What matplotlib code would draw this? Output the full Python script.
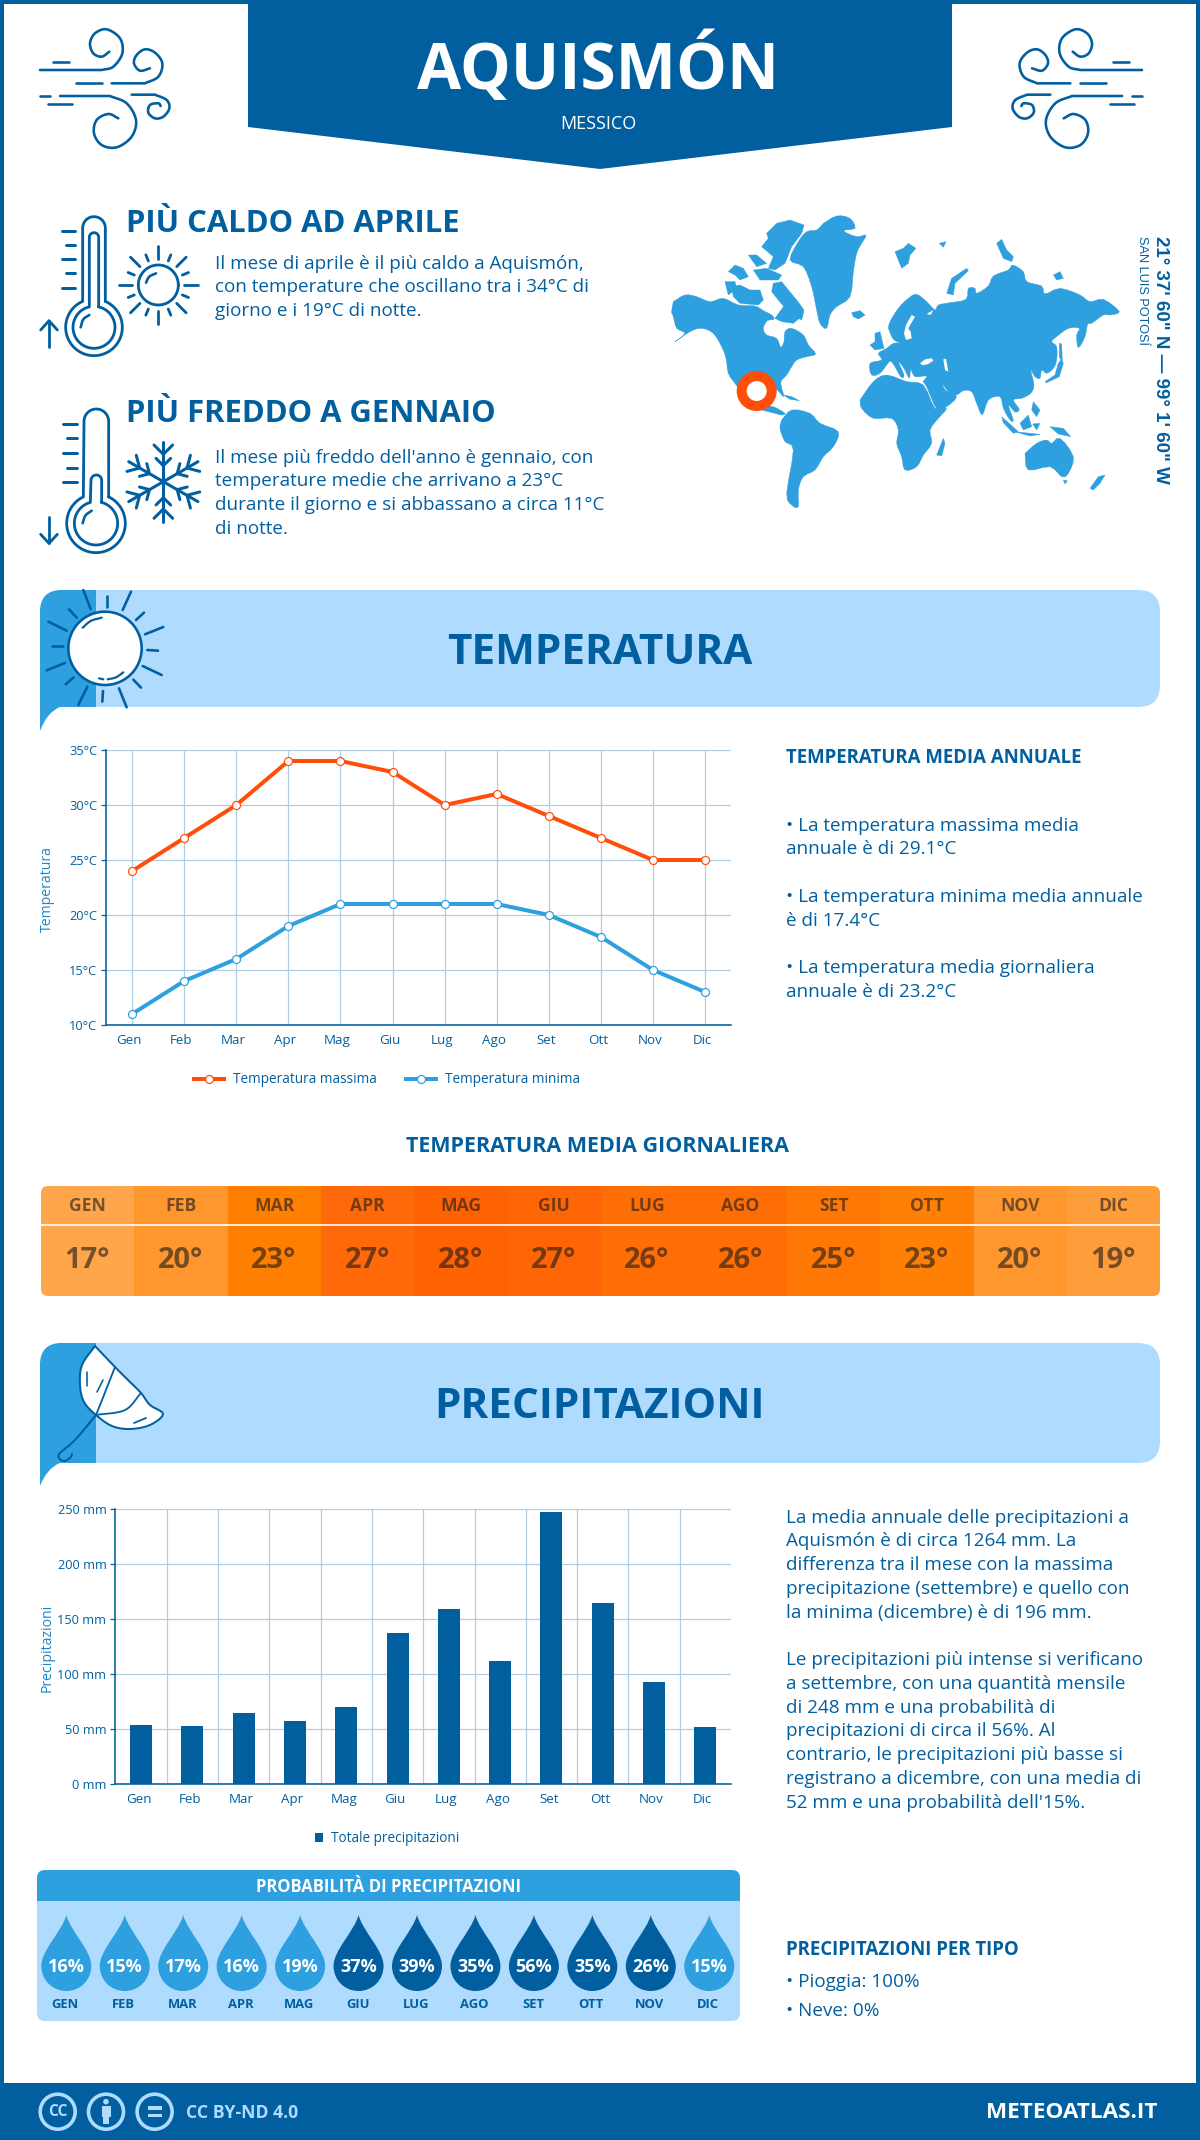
import numpy as np
import matplotlib
matplotlib.use("Agg")
import matplotlib.pyplot as plt
from matplotlib.patches import Rectangle, FancyBboxPatch, Circle, Polygon, PathPatch, Patch
from matplotlib.path import Path
from matplotlib.transforms import ScaledTranslation

plt.rcParams['font.family'] = ['Open Sans', 'DejaVu Sans']

# ---------- data ----------
months = ["Gen", "Feb", "Mar", "Apr", "Mag", "Giu", "Lug", "Ago", "Set", "Ott", "Nov", "Dic"]
months_up = [m.upper() for m in months]
temp_max = [24, 27, 30, 34, 34, 33, 30, 31, 29, 27, 25, 25]
temp_min = [11, 14, 16, 19, 21, 21, 21, 21, 20, 18, 15, 13]
temp_mean = [17, 20, 23, 27, 28, 27, 26, 26, 25, 23, 20, 19]
mean_colors = ["#FFA64D", "#FF962E", "#FF7F00", "#FF690A", "#FF6200", "#FF6505",
               "#FF6D05", "#FF6D05", "#FF7805", "#FF8006", "#FF962E", "#FF9D3B"]
precip = [54, 53, 65, 57.5, 70, 137.5, 159, 112, 248, 165, 93, 52]
prob = [16, 15, 17, 16, 19, 37, 39, 35, 56, 35, 26, 15]
temp_ticks = [10, 15, 20, 25, 30, 35]
precip_ticks = [0, 50, 100, 150, 200, 250]

DARK = "#015FA0"
MID = "#2E9FDF"
LIGHT = "#AFDBFF"
RED = "#FF4E0A"
GRID = "#B0CDE2"
W, H = 1200, 2140
PX = 0.72


def pt(px):
    return px * PX


fig = plt.figure(figsize=(W / 100, H / 100), dpi=100, facecolor="white")
bg = fig.add_axes([0, 0, 1, 1])
bg.set_xlim(0, W)
bg.set_ylim(H, 0)
bg.axis("off")


def T(x, y, s, px, color=DARK, weight="normal", ha="left", va="baseline", **kw):
    return bg.text(x, y, s, fontsize=pt(px), color=color, fontweight=weight, ha=ha, va=va, **kw)


def smooth(pts, n=12):
    p = np.array(pts, float)
    p = np.vstack([2 * p[0] - p[1], p, 2 * p[-1] - p[-2]])
    out = []
    for i in range(1, len(p) - 2):
        for t in np.linspace(0, 1, n, endpoint=False):
            a = 2 * p[i] + (p[i + 1] - p[i - 1]) * t + (2 * p[i - 1] - 5 * p[i] + 4 * p[i + 1] - p[i + 2]) * t ** 2 + (-p[i - 1] + 3 * p[i] - 3 * p[i + 1] + p[i + 2]) * t ** 3
            out.append(a / 2)
    out.append(p[-2])
    return np.array(out)


def stroke(pts, lw=2.6, color=DARK, z=5, **kw):
    p = np.array(pts, float)
    bg.plot(p[:, 0], p[:, 1], color=color, lw=pt(lw), solid_capstyle="round", solid_joinstyle="round", zorder=z, **kw)


def Zf(x0, y0, s=3.0, mirror=None):
    def f(pts):
        p = np.array(pts, float)
        r = np.column_stack([x0 + p[:, 0] / s, y0 + p[:, 1] / s])
        if mirror is not None:
            r[:, 0] = mirror - r[:, 0]
        return r
    return f


# ---------- frame, header, footer ----------
bg.add_patch(Rectangle((2, 2), W - 4, H - 4, fc="none", ec=DARK, lw=pt(4), zorder=1))
bg.add_patch(Polygon([(248, 0), (952, 0), (952, 127), (600, 169), (248, 127)], fc=DARK, ec="none", zorder=2))
T(598, 89, "AQUISMÓN", 64, color="white", weight="bold", ha="center", zorder=3)
T(598, 124, "MESSICO", 18, color="white", ha="center", va="center", zorder=3)
bg.add_patch(Rectangle((0, 2083), W, 57, fc=DARK, ec="none", zorder=2))


def wind(mirror=None):
    z = Zf(30, 20, mirror=mirror)
    for a in ([(68, 125), (118, 125)], [(138, 190), (215, 190)], [(30, 228), (60, 228)], [(55, 253), (125, 253)]):
        stroke(z(a))
    stroke(z(np.vstack([[(30, 150)], smooth([(215, 150), (250, 140), (277, 100), (270, 55), (230, 28), (195, 40), (180, 70), (190, 100), (215, 110), (238, 95)])])))
    stroke(z(np.vstack([[(245, 190)], smooth([(345, 190), (385, 170), (397, 130), (375, 98), (345, 88), (320, 105), (312, 130), (330, 152), (360, 145)])])))
    stroke(z(np.vstack([[(90, 228)], smooth([(240, 228), (290, 250), (318, 300), (305, 350), (260, 382), (215, 375), (192, 340), (200, 300), (235, 282), (265, 295)])])))
    stroke(z(np.vstack([[(305, 224)], smooth([(375, 224), (410, 240), (418, 265), (400, 290), (375, 295), (355, 278), (360, 255), (385, 250), (392, 258)])])))


wind()
wind(mirror=1182)

# ---------- summary ----------
T(125.5, 231.5, "PIÙ CALDO AD APRILE", 31, weight="bold")
for y, s in zip([269, 292.5, 316], ["Il mese di aprile è il più caldo a Aquismón,",
                                    "con temperature che oscillano tra i 34°C di",
                                    "giorno e i 19°C di notte."]):
    T(215, y, s, 18.9)
T(125.5, 421.5, "PIÙ FREDDO A GENNAIO", 31, weight="bold")
for y, s in zip([463, 486.5, 510, 534], ["Il mese più freddo dell'anno è gennaio, con",
                                         "temperature medie che arrivano a 23°C",
                                         "durante il giorno e si abbassano a circa 11°C",
                                         "di notte."]):
    T(215, y, s, 18.9)


def thermo(z, cx, cy, R, r, xl, xr, top, il, ir, itop, ticks, arrow, high):
    ang = np.arcsin((xr - cx) / R)
    th = np.linspace(ang, 2 * np.pi - ang, 60)
    bulb = np.column_stack([cx + R * np.sin(th), cy - R * np.cos(th)])
    w = (xr - xl) / 2
    a = np.linspace(np.pi, 0, 20)
    cap = np.column_stack([(xl + xr) / 2 + w * np.cos(a), top + w - w * np.sin(a)])
    stroke(z(np.vstack([bulb, cap, bulb[:1]])), lw=2.8)
    ang2 = np.arcsin((ir - cx) / r)
    th = np.linspace(ang2, 2 * np.pi - ang2, 60)
    inner = np.column_stack([cx + r * np.sin(th), cy - r * np.cos(th)])
    w = (ir - il) / 2
    cap = np.column_stack([(il + ir) / 2 + w * np.cos(a), itop + w - w * np.sin(a)])
    stroke(z(np.vstack([inner, cap, inner[:1]])), lw=2.8)
    for x0, x1, y in ticks:
        stroke(z([(x0, y), (x1, y)]), lw=3)
    stroke(z(arrow[0]), lw=2.8)
    stroke(z(arrow[1]), lw=2.8)
    stroke(z(smooth(high)), lw=2.6)


z6 = Zf(30, 200)
thermo(z6, 192, 382, 85, 63, 158, 226, 50, 178, 206, 98,
       [(97, 135, 93), (107, 135, 135), (97, 135, 178), (107, 135, 220), (97, 135, 263)],
       ([(57, 440), (57, 362)], [(32, 390), (57, 362), (82, 390)]),
       [(152, 382), (160, 358), (178, 345)])
z7 = Zf(30, 395)
thermo(z7, 198, 385, 88, 65, 162, 236, 42, 183, 215, 240,
       [(100, 140, 86), (110, 140, 130), (100, 140, 174), (110, 140, 218), (100, 140, 262)],
       ([(57, 365), (57, 445)], [(32, 418), (57, 445), (82, 418)]),
       [(158, 385), (166, 362), (185, 347)])

# small sun
cx, cy = 385, 255
t = np.linspace(0, 2 * np.pi, 80)
stroke(z6(np.column_stack([cx + 60 * np.cos(t), cy + 60 * np.sin(t)])), lw=2.8)
for k in range(16):
    a = k * np.pi / 8
    r1 = 118 if k % 2 == 0 else 98
    stroke(z6([(cx + 78 * np.cos(a), cy + 78 * np.sin(a)), (cx + r1 * np.cos(a), cy + r1 * np.sin(a))]), lw=2.8)
stroke(z6(smooth([(348, 248), (358, 230), (378, 220)])), lw=2.6)

# snowflake
for k in range(6):
    a = k * np.pi / 3
    c, s = np.cos(a), np.sin(a)

    def R(pts):
        p = np.array(pts, float)
        return z7(np.column_stack([400 + p[:, 0] * c + p[:, 1] * s, 260 + p[:, 0] * s - p[:, 1] * c]))
    stroke(R([(0, 0), (0, 120)]), lw=3)
    stroke(R([(-28, 110), (0, 82), (28, 110)]), lw=3)
    stroke(R([(-22, 70), (0, 48), (22, 70)]), lw=3)

# ---------- world map (decoration, drawn in the crop's own pixel frame) ----------
north_america = [(40, 305), (75, 285), (110, 290), (150, 305), (190, 295), (235, 315), (285, 318), (310, 332), (335, 345), (342, 358),
                 (322, 362), (310, 385), (320, 405), (350, 415), (362, 442), (372, 425), (375, 395), (395, 385), (430, 405), (445, 435),
                 (467, 462), (440, 470), (410, 480), (395, 500), (380, 525), (362, 548), (372, 590), (352, 570), (330, 560), (310, 550),
                 (285, 555), (290, 590), (320, 615), (345, 622), (375, 640), (365, 645), (345, 640), (300, 628), (270, 610), (240, 570),
                 (225, 550), (205, 520), (198, 475), (185, 440), (160, 400), (125, 385), (90, 395), (45, 425), (75, 400), (50, 385),
                 (40, 350), (35, 335)]
arctic = [[(340, 250), (365, 245), (385, 270), (410, 300), (432, 330), (425, 360), (405, 350), (380, 330), (355, 300), (335, 275)],
          [(215, 260), (240, 255), (270, 270), (300, 270), (310, 300), (295, 315), (240, 310), (220, 290)],
          [(195, 245), (225, 245), (230, 265), (205, 285)],
          [(320, 100), (350, 70), (390, 60), (432, 75), (425, 100), (395, 140), (375, 190), (345, 210), (325, 205), (340, 170), (305, 140), (325, 115)],
          [(205, 215), (225, 195), (250, 205), (265, 230), (240, 240), (225, 225)],
          [(280, 210), (320, 205), (365, 225), (355, 240), (300, 240)],
          [(265, 165), (290, 165), (320, 190), (290, 200)],
          [(345, 355), (385, 300), (430, 345), (400, 370), (365, 365)]]
greenland = [(490, 70), (530, 48), (570, 55), (585, 85), (550, 92), (590, 110), (618, 105), (605, 130), (590, 160), (580, 215), (570, 290),
             (530, 320), (510, 345), (500, 385), (480, 370), (470, 330), (455, 260), (430, 200), (390, 180), (415, 125), (440, 95), (470, 90)]
eurasia = [(685, 385), (690, 365), (715, 325), (745, 295), (770, 283), (800, 305), (825, 330), (835, 315), (870, 308), (918, 298), (925, 265),
           (945, 265), (950, 280), (985, 258), (1000, 228), (1045, 210), (1058, 195), (1090, 215), (1100, 245), (1145, 258), (1155, 282),
           (1200, 265), (1260, 285), (1290, 305), (1330, 298), (1378, 335), (1350, 345), (1330, 345), (1295, 370), (1283, 372), (1275, 410),
           (1255, 443), (1250, 405), (1258, 385), (1225, 385), (1190, 410), (1175, 425), (1190, 440), (1190, 480), (1180, 505), (1160, 520),
           (1145, 510), (1140, 535), (1125, 530), (1112, 510), (1122, 555), (1112, 580), (1085, 595), (1060, 600), (1078, 628), (1065, 636),
           (1045, 615), (1060, 660), (1050, 660), (1030, 625), (1020, 590), (985, 600), (967, 645), (950, 610), (935, 575), (910, 572),
           (890, 585), (870, 580), (848, 553), (858, 572), (890, 590), (860, 620), (832, 630), (800, 560), (790, 545), (800, 528), (765, 530),
           (752, 508), (748, 535), (732, 505), (715, 485), (732, 525), (722, 530), (695, 485), (680, 495), (660, 520), (635, 525), (630, 490),
           (665, 480), (655, 460), (680, 445), (700, 430), (720, 428), (700, 418)]
africa = [(600, 600), (640, 545), (680, 525), (740, 545), (790, 555), (825, 625), (860, 625), (835, 655), (810, 690), (815, 730), (790, 765),
          (770, 800), (735, 810), (725, 770), (710, 730), (715, 690), (695, 655), (640, 655), (605, 625)]
south_america = [(365, 660), (395, 630), (450, 640), (480, 670), (535, 695), (520, 740), (490, 770), (465, 810), (430, 830), (415, 870), (415, 920),
                 (395, 915), (380, 880), (400, 750), (375, 725), (360, 685)]
australia = [(1095, 760), (1130, 730), (1160, 720), (1175, 730), (1200, 715), (1240, 770), (1225, 820), (1205, 830), (1170, 800), (1105, 810)]
islands = [[(575, 338), (600, 332), (615, 345), (595, 357), (580, 350)],
           [(705, 155), (730, 145), (745, 130), (768, 145), (750, 165), (745, 190), (725, 205), (715, 180)],
           [(838, 130), (858, 125), (850, 142)],
           [(860, 280), (875, 235), (920, 205), (925, 212), (885, 250), (880, 285)],
           [(1010, 130), (1025, 118), (1040, 150), (1060, 170), (1055, 185), (1030, 175)],
           [(1180, 225), (1200, 215), (1210, 235), (1190, 240)],
           [(645, 400), (660, 395), (672, 445), (645, 450), (630, 435), (645, 425)],
           [(1155, 545), (1185, 525), (1195, 490), (1203, 480), (1210, 490), (1198, 530), (1160, 548)],
           [(1198, 430), (1205, 432), (1207, 490), (1198, 470)],
           [(1025, 650), (1075, 695), (1060, 700), (1030, 668)],
           [(1065, 695), (1140, 703), (1110, 708)],
           [(1080, 670), (1105, 645), (1115, 680), (1090, 690)],
           [(1118, 672), (1140, 670), (1130, 690)],
           [(1170, 680), (1210, 685), (1232, 710), (1195, 702)],
           [(1120, 605), (1140, 630), (1130, 650), (1115, 630)],
           [(830, 765), (850, 715), (855, 730), (845, 768)],
           [(1210, 840), (1222, 842), (1215, 852)],
           [(1290, 865), (1315, 830), (1335, 825), (1320, 850), (1300, 870)],
           [(370, 585), (395, 590), (418, 602), (390, 598)]]
seas = [[(738, 420), (755, 415), (752, 395), (745, 385), (765, 350), (755, 345), (738, 375), (732, 400)],
        [(780, 490), (795, 478), (815, 475), (820, 482), (805, 492), (788, 496)],
        [(850, 478), (858, 476), (865, 515), (855, 510)],
        [(800, 342), (820, 330), (812, 345)]]
zm = Zf(660, 200)
for poly in [north_america, greenland, eurasia, africa, south_america, australia]:
    bg.add_patch(Polygon(zm(smooth(poly + poly[:1], n=3)), closed=True, fc=MID, ec=MID, lw=0.3, zorder=3))
for poly in arctic + islands:
    bg.add_patch(Polygon(zm(poly), closed=True, fc=MID, ec=MID, lw=0.3, zorder=3))
for poly in seas:
    bg.add_patch(Polygon(zm(poly), closed=True, fc="white", ec="none", zorder=3.5))
bg.add_patch(Circle((756.7, 391), 15, fc="white", ec=RED, lw=pt(10), zorder=4))
T(1161, 359.5, "21° 37' 60\" N — 99° 1' 60\" W", 18.8, weight="bold", rotation=270, ha="center", va="center",
  family="Liberation Sans", rotation_mode="anchor")
T(1142, 290.5, "SAN LUIS POTOSÍ", 12.7, rotation=270, ha="center", va="center", family="Liberation Sans", rotation_mode="anchor")


# ---------- banners ----------
def banner(y0, y1, tail, title):
    bg.add_patch(FancyBboxPatch((40, y0), 1120, y1 - y0, boxstyle="round,pad=0,rounding_size=22", fc=LIGHT, ec="none", zorder=2))
    v = [(96, y1), (96, y0), (62, y0), (40, y0), (40, y0 + 22), (40, tail), (47, y1 + 5), (60, y1), (76, y1), (96, y1)]
    c = [Path.MOVETO, Path.LINETO, Path.LINETO, Path.CURVE3, Path.CURVE3, Path.LINETO, Path.CURVE3, Path.CURVE3, Path.LINETO, Path.CLOSEPOLY]
    bg.add_patch(PathPatch(Path(v, c), fc=MID, ec="none", zorder=2.5))
    T(600, (y0 + y1) / 2, title, 42.3, weight="bold", ha="center", va="center_baseline", zorder=3)


banner(590, 707, 731, "TEMPERATURA")
banner(1343, 1463, 1486, "PRECIPITAZIONI")

# big sun
z8 = Zf(30, 585)
t = np.linspace(0, 2 * np.pi, 100)
bg.add_patch(Polygon(z8(np.column_stack([225 + 110 * np.cos(t), 190 + 110 * np.sin(t)])), closed=True, fc="white", ec=DARK, lw=pt(2.6), zorder=5))
for a, b in [((160, 15), (182, 72)), ((230, 32), (230, 65)), ((303, 20), (278, 75)), ((342, 83), (318, 105)), ((400, 126), (345, 148)),
             ((352, 195), (384, 197)), ((338, 243), (395, 270)), ((310, 284), (333, 308)), ((267, 310), (290, 367)), ((219, 318), (217, 350)),
             ((172, 305), (145, 360)), ((131, 277), (107, 298)), ((105, 234), (50, 256)), ((98, 184), (65, 184)), ((110, 137), (55, 110)),
             ((140, 98), (117, 73))]:
    stroke(z8([a, b]), lw=2.6)
stroke(z8(smooth([(158, 128), (182, 108), (215, 98)])), lw=2.2)
stroke(z8(smooth([(233, 283), (258, 277), (280, 262)])), lw=2.2)
stroke(z8([(207, 280), (220, 283)]), lw=2.2)

# umbrella
canopy = smooth([(95, 1346), (82, 1365), (80, 1385), (84, 1402), (96, 1415), (112, 1426), (130, 1429), (150, 1425), (163, 1414),
                 (150, 1405), (141, 1393), (128, 1380), (115, 1367), (95, 1346)], n=6)
bg.add_patch(Polygon(canopy, closed=True, fc="white", ec=DARK, lw=pt(2), zorder=5))
stroke(smooth([(96, 1415), (75, 1440), (60, 1453), (59, 1458), (64, 1461), (70, 1458), (72, 1454)]), lw=2, z=5)
stroke(smooth([(115, 1367), (104, 1395), (96, 1415)]), lw=1.8, z=6)
stroke(smooth([(141, 1393), (125, 1410), (96, 1415)]), lw=1.8, z=6)
stroke([(87, 1372), (87, 1386)], lw=1.6, z=6)
stroke([(97, 1392), (103, 1380)], lw=1.6, z=6)
stroke([(134, 1423), (146, 1418)], lw=1.8, z=6)

# ---------- temperature chart ----------
ax = fig.add_axes([106.1 / W, 1 - 1025 / H, 625 / W, 275 / H], facecolor="none")
ax.set_xlim(-0.5, 11.5)
ax.set_ylim(min(temp_ticks), max(temp_ticks))
ax.set_xticks(range(12))
ax.set_xticklabels(months)
ax.set_yticks(temp_ticks)
ax.set_yticklabels([f"{v}°C" for v in temp_ticks])
ax.grid(True, color=GRID, lw=pt(1.2))
ax.set_axisbelow(True)
for s in ("top", "right"):
    ax.spines[s].set_visible(False)
for s in ("left", "bottom"):
    ax.spines[s].set_color(DARK)
    ax.spines[s].set_linewidth(pt(1.6))
ax.tick_params(axis="y", length=pt(5), width=pt(1.2), color=DARK, labelcolor=DARK, labelsize=pt(12.8), pad=pt(4))
ax.tick_params(axis="x", length=0, labelcolor=DARK, labelsize=pt(13.4), pad=pt(9))
for lab in ax.get_xticklabels():
    lab.set_transform(lab.get_transform() + ScaledTranslation(-3 / 100, 0, fig.dpi_scale_trans))
ln_style = dict(lw=pt(4), marker="o", ms=pt(8), mfc="white", mew=pt(1.2), clip_on=False)
l1, = ax.plot(range(12), temp_max, color=RED, label="Temperatura massima", **ln_style)
l2, = ax.plot(range(12), temp_min, color=MID, label="Temperatura minima", **ln_style)
ax.legend(handles=[l1, l2], ncol=2, loc="center", bbox_to_anchor=(387 / W, 1 - 1080 / H), bbox_transform=fig.transFigure, frameon=False,
          fontsize=pt(13.6), labelcolor=DARK, handlelength=2.2, handletextpad=0.66, columnspacing=2.2, borderpad=0, borderaxespad=0)
T(47.5, 889, "Temperatura", 14, color="#1F86C6", rotation=90, ha="center", va="center")

# ---------- temperature text ----------
T(785.5, 763, "TEMPERATURA MEDIA ANNUALE", 18.7, weight="bold")
for y, s in zip([830.7, 854, 902, 926, 973, 997],
                ["• La temperatura massima media", "annuale è di 29.1°C",
                 "• La temperatura minima media annuale", "è di 17.4°C",
                 "• La temperatura media giornaliera", "annuale è di 23.2°C"]):
    T(785.5, y, s, 18.9)

# ---------- daily mean table ----------
T(598, 1147, "TEMPERATURA MEDIA GIORNALIERA", 21.5, weight="bold", ha="center", va="center")
x0, x1, y0, ym, y1 = 41, 1160, 1186, 1225, 1296
clip = FancyBboxPatch((x0, y0), x1 - x0, y1 - y0, boxstyle="round,pad=0,rounding_size=7", fc="none", ec="none", transform=bg.transData)
bg.add_patch(clip)
cw = (x1 - x0) / 12
for i, (m, v, c) in enumerate(zip(months_up, temp_mean, mean_colors)):
    r = bg.add_patch(Rectangle((x0 + i * cw, y0), cw + 0.5, y1 - y0, fc=c, ec="none", zorder=2))
    r.set_clip_path(clip)
    T(x0 + (i + 0.5) * cw, 1206, m, 17.5, color="#1a1a1a", weight="bold", ha="center", va="center", alpha=0.6, zorder=3)
    T(x0 + (i + 0.5) * cw, 1261, f"{v}°", 29, color="#1a1a1a", weight="bold", ha="center", va="center", alpha=0.6, zorder=3)
bg.plot([x0, x1], [ym, ym], color="white", lw=pt(1.6), zorder=3)

# ---------- precipitation chart ----------
ax2 = fig.add_axes([115.4 / W, 1 - 1784.3 / H, 615.6 / W, 275 / H], facecolor="none")
ax2.set_xlim(-0.5, 11.5)
ax2.set_ylim(min(precip_ticks), max(precip_ticks))
ax2.set_xticks(range(12))
ax2.set_xticklabels(months)
ax2.set_xticks(np.arange(0.5, 11), minor=True)
ax2.set_yticks(precip_ticks)
ax2.set_yticklabels([f"{v} mm" for v in precip_ticks])
ax2.grid(True, axis="y", color=GRID, lw=pt(1.2))
ax2.grid(True, axis="x", which="minor", color=GRID, lw=pt(1.2))
ax2.set_axisbelow(True)
for s in ("top", "right"):
    ax2.spines[s].set_visible(False)
for s in ("left", "bottom"):
    ax2.spines[s].set_color(DARK)
    ax2.spines[s].set_linewidth(pt(1.6))
ax2.tick_params(axis="y", length=pt(5), width=pt(1.2), color=DARK, labelcolor=DARK, labelsize=pt(12.8), pad=pt(4))
ax2.tick_params(axis="x", which="both", length=0, labelcolor=DARK, labelsize=pt(13.4), pad=pt(9))
for lab in ax2.get_xticklabels():
    lab.set_transform(lab.get_transform() + ScaledTranslation(-2.5 / 100, 0, fig.dpi_scale_trans))
ax2.bar(range(12), precip, width=22 / 51.3, color=DARK, zorder=3)
ax2.legend(handles=[Patch(fc=DARK, label="Totale precipitazioni")], loc="center", bbox_to_anchor=(387 / W, 1 - 1838.7 / H),
           bbox_transform=fig.transFigure, frameon=False, fontsize=pt(13.6), labelcolor=DARK, handlelength=0.6, handleheight=0.6,
           handletextpad=0.6, borderpad=0, borderaxespad=0)
T(47.5, 1647.7, "Precipitazioni", 14, color="#1F86C6", rotation=90, ha="center", va="center")

# ---------- precipitation text ----------
for y, s in zip([1522.7, 1546, 1570, 1594, 1618, 1665, 1689, 1713, 1736, 1760, 1784, 1808],
                ["La media annuale delle precipitazioni a", "Aquismón è di circa 1264 mm. La",
                 "differenza tra il mese con la massima", "precipitazione (settembre) e quello con",
                 "la minima (dicembre) è di 196 mm.",
                 "Le precipitazioni più intense si verificano", "a settembre, con una quantità mensile",
                 "di 248 mm e una probabilità di", "precipitazioni di circa il 56%. Al",
                 "contrario, le precipitazioni più basse si", "registrano a dicembre, con una media di",
                 "52 mm e una probabilità dell'15%."]):
    T(785.5, y, s, 18.9)
T(785.5, 1955, "PRECIPITAZIONI PER TIPO", 18.7, weight="bold")
T(785.5, 1987, "• Pioggia: 100%", 18.9)
T(785.5, 2015.5, "• Neve: 0%", 18.9)

# ---------- probability box ----------
x0, x1, y0, yh, y1 = 37, 740, 1870, 1901, 2021
clip2 = FancyBboxPatch((x0, y0), x1 - x0, y1 - y0, boxstyle="round,pad=0,rounding_size=8", fc="none", ec="none", transform=bg.transData)
bg.add_patch(clip2)
r = bg.add_patch(Rectangle((x0, yh), x1 - x0, y1 - yh, fc=LIGHT, ec="none", zorder=2))
r.set_clip_path(clip2)
r = bg.add_patch(Rectangle((x0, y0), x1 - x0, yh - y0, fc=MID, ec="none", zorder=2))
r.set_clip_path(clip2)
T(389, 1886.5, "PROBABILITÀ DI PRECIPITAZIONI", 16.6, color="white", weight="bold", ha="center", va="center", zorder=3)
for i, (m, p) in enumerate(zip(months_up, prob)):
    cx = 66.3 + i * 58.45
    v = [(cx, 1915), (cx + 4, 1931), (cx + 25, 1950), (cx + 25, 1966), (cx + 25, 1980), (cx + 14, 1991), (cx, 1991),
         (cx - 14, 1991), (cx - 25, 1980), (cx - 25, 1966), (cx - 25, 1950), (cx - 4, 1931), (cx, 1915)]
    c = [Path.MOVETO] + [Path.CURVE4] * 12
    bg.add_patch(PathPatch(Path(v, c), fc=DARK if p >= 26 else MID, ec="none", zorder=3))
    T(cx, 1966.7, f"{p}%", 18, color="white", weight="bold", ha="center", va="center", zorder=4)
    T(cx - 1, 2004.7, m, 13, color=DARK, weight="bold", ha="center", va="center", zorder=3)

# ---------- footer ----------
fy = 2111.7
for cxx in (57.7, 106, 154.6):
    bg.add_patch(Circle((cxx, fy), 17.5, fc="none", ec=LIGHT, lw=pt(3.6), zorder=3))
T(57.7, fy, "CC", 15.5, color=LIGHT, weight="bold", ha="center", va="center", zorder=4)
bg.add_patch(Circle((106, fy - 10), 2.8, fc=LIGHT, ec="none", zorder=4))
bg.add_patch(Rectangle((101.5, fy - 6), 9, 11, fc=LIGHT, ec="none", zorder=4))
bg.add_patch(Rectangle((103.2, fy + 4), 5.6, 8, fc=LIGHT, ec="none", zorder=4))
bg.add_patch(Rectangle((147.5, fy - 5.5), 14, 3.6, fc=LIGHT, ec="none", zorder=4))
bg.add_patch(Rectangle((147.5, fy + 2), 14, 3.6, fc=LIGHT, ec="none", zorder=4))
T(185.5, 2117.7, "CC BY-ND 4.0", 17.6, color=LIGHT, weight="bold", zorder=4)
T(1158, 2112, "METEOATLAS.IT", 22.5, color="white", weight="bold", ha="right", va="center", zorder=4)

fig.savefig("out.png", dpi=100, facecolor="white")
